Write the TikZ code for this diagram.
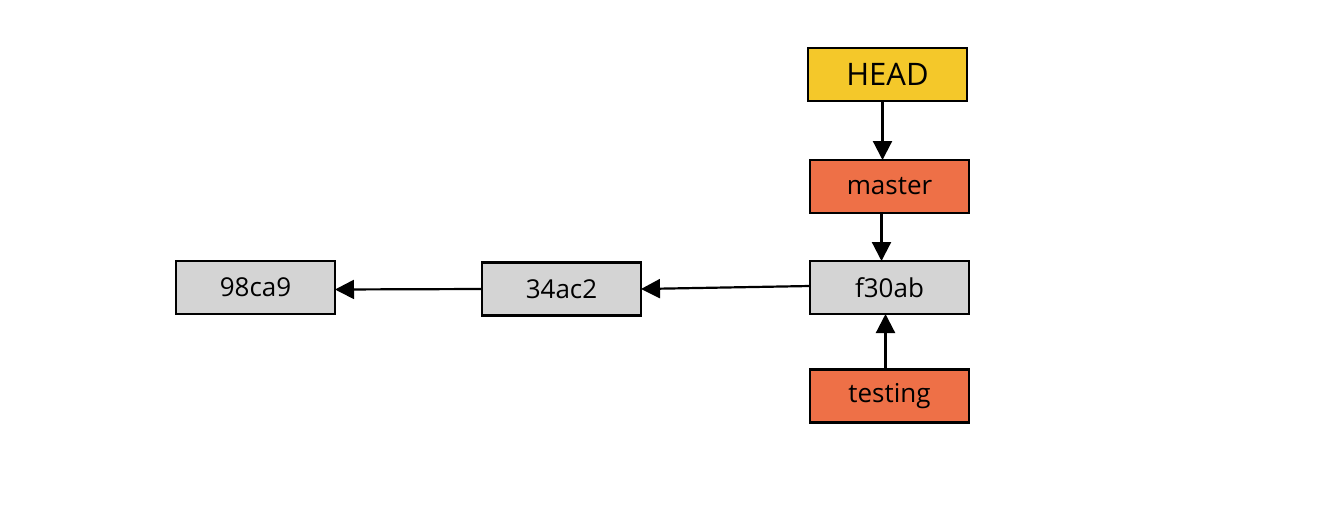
\documentclass[tikz,border=0pt]{standalone}
\usepackage{fontspec}
\setmainfont{Open Sans}
\usetikzlibrary{arrows.meta}
\definecolor{headyellow}{HTML}{F4C82A}
\definecolor{branchorange}{HTML}{EE7047}
\definecolor{commitgray}{HTML}{D4D4D4}
\begin{document}
\begin{tikzpicture}[x=1pt,y=-1pt,
  box/.style={draw=black,line width=2.8pt,minimum width=159pt,minimum height=53pt,inner sep=0pt,outer sep=0pt,font=\fontsize{26}{30}\selectfont},
  commit/.style={box,fill=commitgray},
  branch/.style={box,fill=branchorange},
  headbox/.style={box,fill=headyellow,font=\fontsize{31}{34}\selectfont},
  link/.style={line width=2.2pt,-{Triangle[length=19pt,width=19pt]}}]
\useasboundingbox (0,0) rectangle (1323,517);
\node[headbox] (head) at (887.5,74.5) {HEAD};
\node[branch] (master) at (889.5,186.5) {master};
\node[commit] (f30ab) at (889.5,287.5) {f30ab};
\node[branch] (testing) at (889.5,396) {testing};
\node[commit] (c34ac2) at (561.5,289) {34ac2};
\node[commit] (c98ca9) at (255.5,287.5) {98ca9};
\draw[link] ([xshift=-5pt]head.south) -- ([xshift=-7pt]master.north);
\draw[link] ([xshift=-8pt]master.south) -- ([xshift=-8pt]f30ab.north);
\draw[link] ([xshift=-4pt]testing.north) -- ([xshift=-4pt]f30ab.south);
\draw[link] ([yshift=1.5pt]f30ab.west) -- (c34ac2.east);
\draw[link] (c34ac2.west) -- ([yshift=-2pt]c98ca9.east);
\end{tikzpicture}
\end{document}
